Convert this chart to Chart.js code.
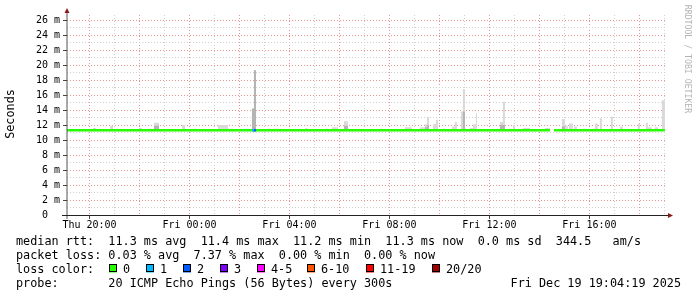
<!DOCTYPE html>
<html>
<head>
<meta charset="utf-8">
<title>SmokePing - last 24 hours</title>
<script src="https://cdn.jsdelivr.net/npm/chart.js@4/dist/chart.umd.min.js"></script>
<style>
  html, body { margin: 0; background: #fff; }
  canvas { display: block; }
</style>
</head>
<body>
<canvas id="rttChart" width="697" height="297"></canvas>
<script>
// Time axis in hours since Thu 00:00 (24 = Fri 00:00)
const startHour = 19.1, endHour = 43.105;
const gridHours = [20,21,22,23,24,25,26,27,28,29,30,31,32,33,34,35,36,37,38,39,40,41,42,43];
const labelHours = [20, 24, 28, 32, 36, 40];
const labelTexts = ['Thu 20:00', 'Fri 00:00', 'Fri 04:00', 'Fri 08:00', 'Fri 12:00', 'Fri 16:00'];
const yGrid = [0,1,2,3,4,5,6,7,8,9,10,11,12,13,14,15,16,17,18,19,20,21,22,23,24,25,26];
const yMax = 26.667;

// median rtt (ms), null = no data
const medianHours = [19.10, 24.00, 28.00, 32.00, 36.00, 38.42, 38.50, 38.58, 40.00, 43.02];
const medianMs    = [11.3, 11.3, 11.3, 11.3, 11.3, 11.3, null, 11.3, 11.3, 11.3];

// samples with lost pings (out of 20)
const lossHours = [26.50, 26.58];
const lossPings = [1, 2];
const sampleH = 300 / 3600;

// smoke: from / to (hours), top of smoke and darker core (ms)
const smokeFrom = [20.14,20.82,21.06,21.98,22.34,22.58,23.70,24.14,25.14,25.54,26.14,26.50,26.58,27.06,27.34,28.62,29.42,29.70,30.18,30.62,
  31.62,32.62,33.22,33.42,33.50,33.74,33.86,34.14,34.50,34.62,34.86,34.94,35.02,35.22,35.34,35.46,36.26,36.42,36.54,36.74,
  36.94,37.34,38.22,38.90,39.02,39.18,39.38,39.74,40.10,40.22,40.42,40.86,41.22,41.94,42.26,42.34,42.62,42.90];
const smokeTo   = [20.26,20.94,21.14,22.10,22.50,22.78,23.82,24.30,25.54,25.74,26.34,26.58,26.66,27.26,27.66,28.74,29.54,29.94,30.34,30.74,
  31.74,32.90,33.42,33.50,33.58,33.86,33.94,34.26,34.62,34.70,34.94,35.02,35.10,35.34,35.46,35.50,36.38,36.54,36.62,36.90,
  37.02,37.62,38.42,39.02,39.14,39.34,39.50,39.90,40.22,40.34,40.50,40.94,41.34,42.02,42.34,42.50,42.74,43.02];
const smokeTop  = [11.6,11.9,11.5,11.6,11.5,12.3,12.0,11.5,12.0,11.5,11.5,14.2,19.3,11.5,11.5,11.5,11.5,11.7,12.5,11.4,
  11.5,11.7,11.7,12.1,13.1,12.1,12.7,11.5,11.8,12.4,13.8,16.8,11.5,11.6,12.1,13.6,11.5,12.4,15.1,11.5,
  12.0,11.6,11.6,12.8,11.9,12.2,11.8,11.5,11.5,12.2,12.9,13.1,11.8,12.2,12.3,11.7,11.7,15.3];
const smokeCore = [11.3,11.3,11.3,11.3,11.3,11.9,11.3,11.3,11.3,11.3,11.3,14.2,19.3,11.3,11.3,11.5,11.3,11.3,11.9,11.3,
  11.3,11.3,11.3,11.7,12.0,11.3,11.3,11.3,11.3,11.3,11.3,13.8,11.3,11.3,11.3,11.3,11.3,12.0,12.0,11.3,
  11.3,11.3,11.3,11.8,11.3,11.3,11.3,11.3,11.3,11.3,11.3,11.3,11.3,11.3,11.3,11.3,11.3,11.3];
const smokeBase = 11.3;

// legend / stats
const lossLabels = ['0', '1', '2', '3', '4-5', '6-10', '11-19', '20/20'];
const lossColors = ['#26ff00', '#00b8ff', '#0059ff', '#7e00ff', '#ff00ff', '#ff5500', '#ff0000', '#a10000'];
const rttNames = ['avg', 'max', 'min', 'now'];
const rttValues = [11.3, 11.4, 11.2, 11.3];
const rttSd = 0.0, rttAmps = 344.5;
const lossValues = [0.03, 7.37, 0.00, 0.00];
const probeText = '20 ICMP Echo Pings (56 Bytes) every 300s';
const stampText = 'Fri Dec 19 19:04:19 2025';

function lossIndex(n) {
  if (n <= 3) return n;
  if (n <= 5) return 4;
  if (n <= 10) return 5;
  if (n <= 19) return 6;
  return 7;
}

function smokePoints(tops) {
  const pts = [{x: startHour, y: smokeBase}];
  smokeFrom.forEach((t, i) => {
    pts.push({x: t, y: tops[i]});
    pts.push({x: smokeTo[i], y: smokeBase});
  });
  pts.push({x: endHour, y: smokeBase});
  return pts;
}

const lossPts = lossHours.map((h, i) => ({x: h, y: medianMs[0]}));
lossPts.push({x: lossHours[lossHours.length - 1] + sampleH, y: medianMs[0]});

const mono = 'DejaVu Sans Mono';
const textFont = '11.8px "DejaVu Sans Mono"';
const majorGrid = '#e69494', minorGrid = '#d0d0d0';

// axes, arrows, side texts and the stats block
const overlay = {
  id: 'overlay',
  afterDraw(chart) {
    const {ctx, chartArea: a} = chart;
    ctx.save();
    ctx.lineWidth = 1;
    ctx.strokeStyle = '#555';
    ctx.beginPath(); ctx.moveTo(a.left, a.bottom + 4); ctx.lineTo(a.left, a.top - 2); ctx.stroke();
    ctx.strokeStyle = '#222';
    ctx.beginPath(); ctx.moveTo(a.left - 5, a.bottom + 0.5); ctx.lineTo(a.right + 1, a.bottom + 0.5); ctx.stroke();
    ctx.fillStyle = '#8b1a1a';
    ctx.beginPath(); ctx.moveTo(a.left, a.top - 7); ctx.lineTo(a.left - 2.5, a.top - 2); ctx.lineTo(a.left + 2.5, a.top - 2); ctx.fill();
    ctx.beginPath(); ctx.moveTo(a.right + 6, a.bottom + 0.5); ctx.lineTo(a.right + 1, a.bottom - 2); ctx.lineTo(a.right + 1, a.bottom + 3); ctx.fill();

    // y title
    ctx.fillStyle = '#000';
    ctx.font = textFont;
    ctx.textAlign = 'center';
    ctx.textBaseline = 'middle';
    ctx.save(); ctx.translate(11, 114); ctx.rotate(-Math.PI / 2); ctx.fillText('Seconds', 0, 0); ctx.restore();

    // watermark
    ctx.save();
    ctx.fillStyle = '#b4b4b4';
    ctx.font = '8.2px "DejaVu Sans Mono"';
    ctx.translate(687.5, 59); ctx.rotate(Math.PI / 2); ctx.fillText('RRDTOOL / TOBI OETIKER', 0, 0);
    ctx.restore();

    // stats block
    ctx.textAlign = 'left';
    ctx.textBaseline = 'alphabetic';
    const cw = ctx.measureText('0').width;
    const x0 = 16, col = x0 + 13 * cw;
    const rtt = rttValues.map((v, i) => `${v.toFixed(1)} ms ${rttNames[i]}`).join('  ')
      + `  ${rttSd.toFixed(1)} ms sd  ${rttAmps.toFixed(1)}   am/s`;
    const loss = lossValues.map((v, i) => `${v.toFixed(2)} % ${rttNames[i]}`).join('  ');
    ctx.fillText('median rtt:', x0, 245); ctx.fillText(rtt, col, 245);
    ctx.fillText('packet loss:', x0, 259); ctx.fillText(loss, col, 259);
    ctx.fillText('loss color:', x0, 273);
    const boxX = [109, 146, 183, 220, 257, 307, 366, 432];
    lossLabels.forEach((l, i) => {
      ctx.fillStyle = lossColors[i];
      ctx.fillRect(boxX[i], 264.5, 8, 8);
      ctx.strokeStyle = '#000';
      ctx.strokeRect(boxX[i] + 0.5, 264.5, 7, 7);
      ctx.fillStyle = '#000';
      ctx.fillText(l, boxX[i] + 14, 273);
    });
    ctx.fillText('probe:', x0, 287); ctx.fillText(probeText, col, 287);
    ctx.textAlign = 'right';
    ctx.fillText(stampText, 681, 287);
    ctx.restore();
  }
};

new Chart(document.getElementById('rttChart'), {
  data: {
    datasets: [
      {
        type: 'line', label: 'loss', data: lossPts, parsing: false,
        borderWidth: 2.6, pointRadius: 0, fill: false, order: 0,
        segment: { borderColor: c => lossColors[lossIndex(lossPings[c.p0DataIndex])] }
      },
      {
        type: 'line', label: 'median rtt', order: 1,
        data: medianHours.map((h, i) => ({x: h, y: medianMs[i]})), parsing: false,
        borderColor: lossColors[0], borderWidth: 2.6, pointRadius: 0, fill: false, spanGaps: false
      },
      {
        type: 'line', label: 'smoke core', order: 2, data: smokePoints(smokeCore), parsing: false,
        stepped: true, borderWidth: 0, pointRadius: 0, backgroundColor: '#b4b4b4', fill: {value: smokeBase}
      },
      {
        type: 'line', label: 'smoke', order: 3, data: smokePoints(smokeTop), parsing: false,
        stepped: true, borderWidth: 0, pointRadius: 0, backgroundColor: '#d9d9d9', fill: {value: smokeBase}
      }
    ]
  },
  options: {
    responsive: false,
    animation: false,
    layout: { padding: {top: 15, right: 30, bottom: 0, left: 0} },
    plugins: { legend: {display: false}, tooltip: {enabled: false} },
    scales: {
      x: {
        type: 'linear', min: startHour, max: endHour,
        afterBuildTicks: s => { s.ticks = gridHours.map(v => ({value: v})); },
        afterFit: s => { s.height = 82; },
        ticks: {
          autoSkip: false, maxRotation: 0, minRotation: 0, padding: 0, color: '#000',
          font: {family: mono, size: 10},
          callback: v => { const i = labelHours.indexOf(v); return i < 0 ? '' : labelTexts[i]; }
        },
        grid: {
          tickLength: 4,
          color: c => c.tick && c.tick.value % 2 === 0 ? majorGrid : minorGrid,
          tickColor: c => c.tick && labelHours.includes(c.tick.value) ? '#444' : 'rgba(0,0,0,0)'
        },
        border: { display: false, dash: [1, 2] }
      },
      y: {
        type: 'linear', min: 0, max: yMax,
        afterBuildTicks: s => { s.ticks = yGrid.map(v => ({value: v})); },
        afterFit: s => { s.width = 67; },
        ticks: {
          autoSkip: false, padding: 3, color: '#000',
          font: {family: mono, size: 10},
          callback: v => v % 2 ? '' : (v === 0 ? '0  ' : v + ' m')
        },
        grid: {
          tickLength: 4,
          color: c => c.tick && c.tick.value % 2 === 0 ? majorGrid : minorGrid,
          tickColor: c => c.tick && c.tick.value % 2 === 0 ? '#444' : 'rgba(0,0,0,0)'
        },
        border: { display: false, dash: [1, 2] }
      }
    }
  },
  plugins: [overlay]
});
</script>
</body>
</html>
